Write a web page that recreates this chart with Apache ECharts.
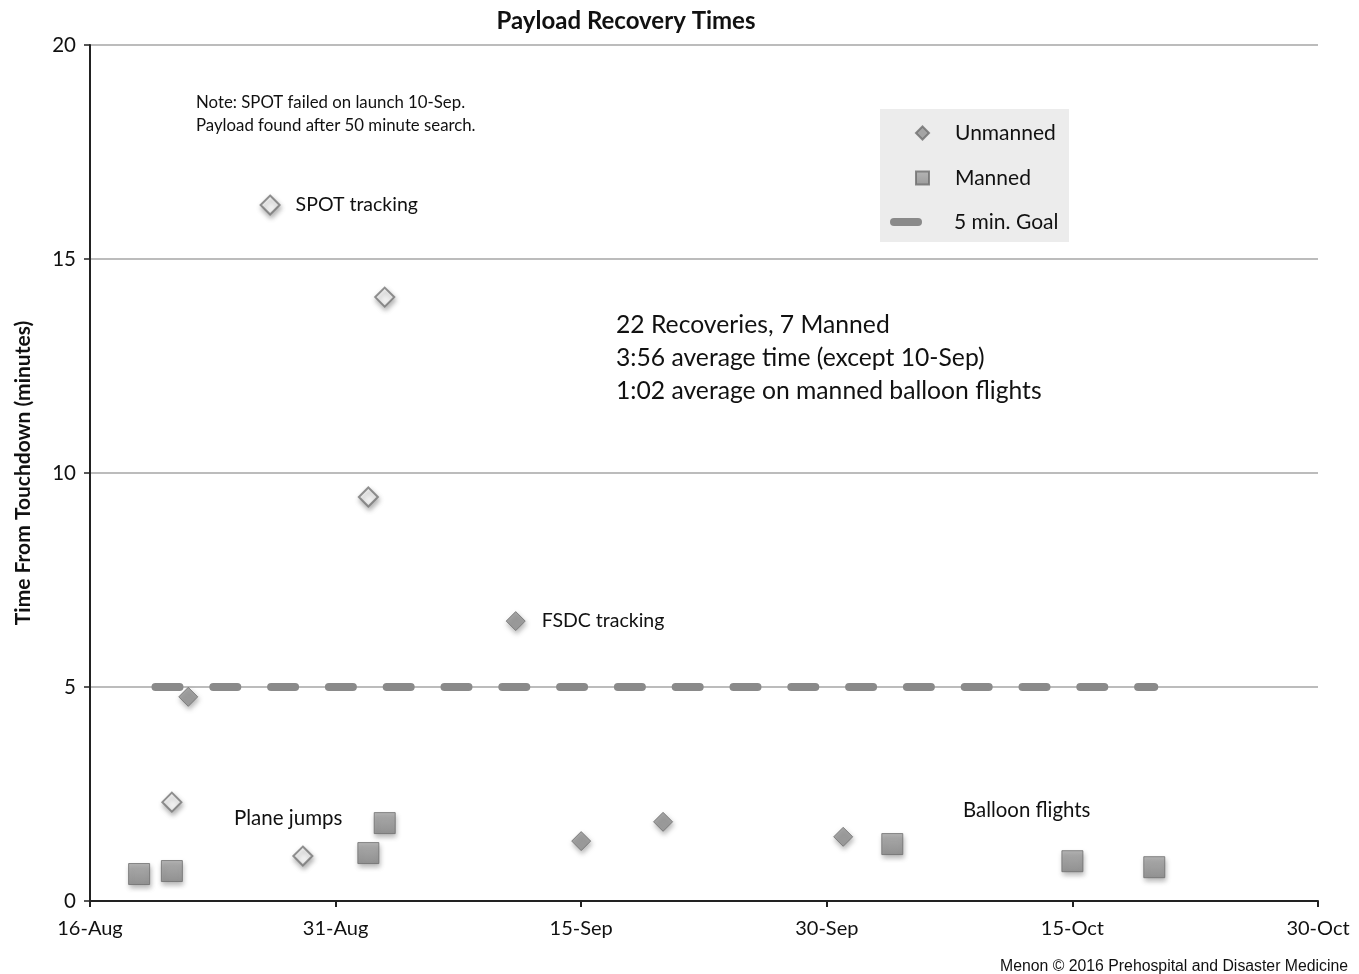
<!DOCTYPE html>
<html><head><meta charset="utf-8">
<script src="https://cdn.jsdelivr.net/npm/echarts@6/dist/echarts.min.js"></script>
<style>html,body{margin:0;padding:0;background:#fff}#c{width:1359px;height:974px}</style>
</head><body><div id="c"></div>
<script>
// ---- data ----
const YEAR = 2015;
const START = '08-16';
const xTickLabels = ['16-Aug', '31-Aug', '15-Sep', '30-Sep', '15-Oct', '30-Oct'];
const yTickValues = [0, 5, 10, 15, 20];
const unmannedDates = ['08-22', '09-11', '09-15', '09-20', '10-01'];
const unmannedTimes = [4.77, 6.54, 1.40, 1.85, 1.50];
const mannedDates = ['08-19', '08-21', '09-02', '09-03', '10-04', '10-15', '10-20'];
const mannedTimes = [0.63, 0.70, 1.12, 1.82, 1.33, 0.93, 0.79];
const spotDates = ['08-21', '08-29', '09-02', '09-03'];
const spotTimes = [2.31, 1.05, 9.44, 14.11];
const spotKeyDates = ['08-27'];
const spotKeyTimes = [16.26];
const goalDates = ['08-20', '10-20'];
const goalTimes = [5, 5];
const fsdcLabelDate = '09-11';

// ---- helpers ----
function dayOf(md) {
  const [m, d] = md.split('-').map(Number);
  const [m0, d0] = START.split('-').map(Number);
  return (Date.UTC(YEAR, m - 1, d) - Date.UTC(YEAR, m0 - 1, d0)) / 864e5;
}
function pts(dates, vals) { return dates.map((d, i) => [dayOf(d), vals[i]]); }

const FONT = 'Lato';
const TXT = '#111111';
const shadow = { shadowBlur: 5, shadowColor: 'rgba(0,0,0,0.35)', shadowOffsetX: 1, shadowOffsetY: 3 };
const labelStyle = { fontFamily: FONT, fontSize: 19.5, color: TXT, opacity: 1,
  textShadowBlur: 0, textShadowColor: 'transparent', textBorderWidth: 0 };

const unmannedData = pts(unmannedDates, unmannedTimes).map((p, i) => {
  if (unmannedDates[i] === fsdcLabelDate) {
    return { value: p, label: Object.assign({ show: true, formatter: 'FSDC tracking', position: 'right', distance: 16 }, labelStyle) };
  }
  return p;
});

const chart = echarts.init(document.getElementById('c'), null, { renderer: 'canvas' });
chart.setOption({
  animation: false,
  backgroundColor: '#fff',
  title: {
    text: 'Payload Recovery Times', left: 621, top: 4, textAlign: 'center',
    textStyle: { fontFamily: FONT, fontWeight: 'bold', fontSize: 24, color: TXT }
  },
  grid: { left: 90, right: 41, top: 45, bottom: 73 },
  xAxis: {
    type: 'value', min: 0, max: 75, interval: 15,
    axisLine: { show: true, onZero: false, lineStyle: { color: '#222', width: 2 } },
    axisTick: { show: true, length: 6, lineStyle: { color: '#222', width: 2 } },
    axisLabel: { formatter: v => xTickLabels[Math.round(v / 15)] || '', fontFamily: FONT, fontSize: 20,
      color: TXT, margin: 18, showMaxLabel: true, showMinLabel: true },
    splitLine: { show: false }
  },
  yAxis: {
    type: 'value', min: yTickValues[0], max: yTickValues[yTickValues.length - 1], interval: 5,
    name: 'Time From Touchdown (minutes)', nameLocation: 'middle', nameRotate: 90, nameGap: 56,
    nameTextStyle: { fontFamily: FONT, fontWeight: 'bold', fontSize: 21, color: TXT },
    axisLine: { show: true, lineStyle: { color: '#222', width: 2 } },
    axisTick: { show: true, length: 6, lineStyle: { color: '#222', width: 1.5 } },
    axisLabel: { fontFamily: FONT, fontSize: 20.5, color: TXT, margin: 14 },
    splitLine: { show: true, lineStyle: { color: '#a6a6a6', width: 1.5 } }
  },
  legend: [
    { data: [{ name: 'Unmanned', icon: 'diamond' }], left: 915, top: 122.5, padding: 0,
      itemWidth: 13, itemHeight: 13, selectedMode: false,
      textStyle: { fontFamily: FONT, fontSize: 21, color: TXT, padding: [0, 0, 0, 21] } },
    { data: [{ name: 'Manned', icon: 'rect' }], left: 915, top: 167.5, padding: 0,
      itemWidth: 13, itemHeight: 13, selectedMode: false,
      textStyle: { fontFamily: FONT, fontSize: 21, color: TXT, padding: [0, 0, 0, 21] } },
    { data: [{ name: '5 min. Goal', icon: 'path://M4 0H28A4 4 0 0 1 28 8H4A4 4 0 0 1 4 0Z',
        itemStyle: { color: '#8a8a8a', borderWidth: 0, shadowBlur: 0 } }],
      left: 890, top: 211.5, padding: 0, itemWidth: 32, itemHeight: 8, selectedMode: false,
      textStyle: { fontFamily: FONT, fontSize: 21, color: TXT, padding: [0, 0, 0, 27] } }
  ],
  graphic: [
    { type: 'rect', left: 880, top: 109, z: -1, shape: { width: 189, height: 133 },
      style: { fill: '#ececec' } },
    { type: 'text', left: 196, top: 91, style: { text: 'Note: SPOT failed on launch 10-Sep.\nPayload found after 50 minute search.',
      font: '16.8px Lato', lineHeight: 23, fill: TXT } },
    { type: 'text', left: 616, top: 309, style: { text: '22 Recoveries, 7 Manned\n3:56 average time (except 10-Sep)\n1:02 average on manned balloon flights',
      font: '24.7px Lato', lineHeight: 33, fill: TXT } },
    { type: 'text', left: 234, top: 808, style: { text: 'Plane jumps', font: '20.5px Lato', fill: TXT } },
    { type: 'text', left: 963, top: 800, style: { text: 'Balloon flights', font: '20.4px Lato', fill: TXT } },
    { type: 'text', right: 11, top: 959, style: { text: 'Menon \u00A9 2016 Prehospital and Disaster Medicine',
      font: '15.8px "Liberation Sans"', fill: TXT } }
  ],
  series: [
    {
      name: '5 min. Goal', type: 'line', data: pts(goalDates, goalTimes), symbol: 'none', z: 2,
      lineStyle: { color: '#8a8a8a', width: 8, type: [24, 33.8], cap: 'round' },
      itemStyle: { color: '#8a8a8a' }, silent: true
    },
    {
      name: 'Manned', type: 'scatter', data: pts(mannedDates, mannedTimes), symbol: 'rect', symbolSize: 21, z: 4,
      itemStyle: Object.assign({
        color: new echarts.graphic.LinearGradient(0, 0, 0, 1, [
          { offset: 0, color: '#a8a8a8' }, { offset: 1, color: '#878787' }]),
        borderColor: '#6e6e6e', borderWidth: 1
      }, shadow)
    },
    {
      name: 'Unmanned', type: 'scatter', data: unmannedData, symbol: 'diamond', symbolSize: 19, z: 4,
      itemStyle: Object.assign({ color: '#929292', borderColor: '#6e6e6e', borderWidth: 1 }, shadow)
    },
    {
      name: 'SPOT', type: 'scatter', data: pts(spotDates, spotTimes), symbol: 'diamond', symbolSize: 19, z: 4,
      itemStyle: Object.assign({ color: '#ffffff', borderColor: '#757575', borderWidth: 2 }, shadow)
    },
    {
      name: 'SPOT key', type: 'scatter', data: pts(spotKeyDates, spotKeyTimes), symbol: 'diamond', symbolSize: 19, z: 4,
      itemStyle: Object.assign({ color: '#ffffff', borderColor: '#757575', borderWidth: 2 }, shadow),
      label: Object.assign({ show: true, formatter: 'SPOT tracking', position: 'right', distance: 15 }, labelStyle)
    }
  ]
});
</script>
</body></html>
